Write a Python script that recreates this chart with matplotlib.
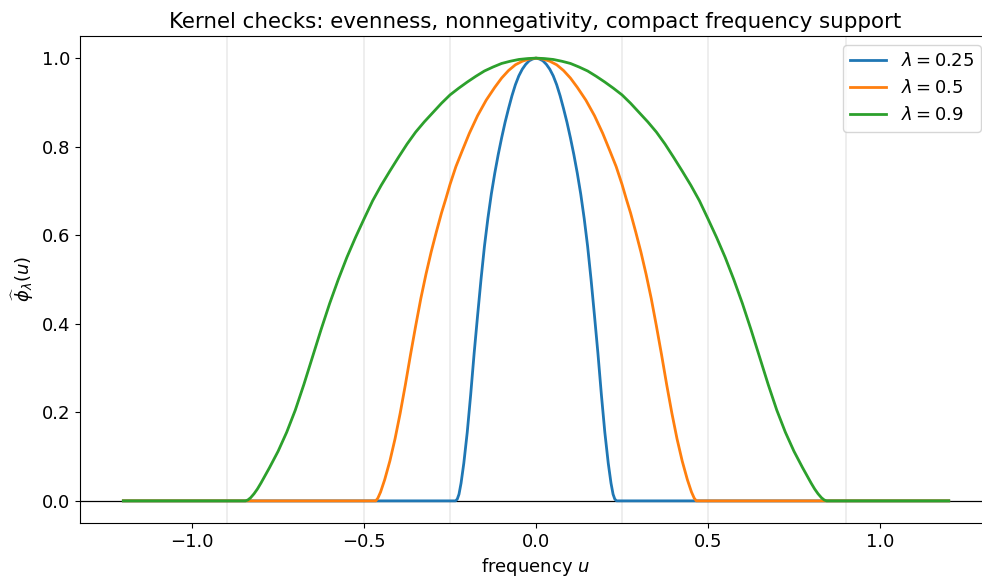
import numpy as np
import matplotlib
matplotlib.use("Agg")
import matplotlib.pyplot as plt

# half-curves (u >= 0); kernels are even, so mirrored below
lambdas = [0.25, 0.5, 0.9]
colors = ["#1f77b4", "#ff7f0e", "#2ca02c"]

u_blue = [0.0, 0.01, 0.02, 0.03, 0.04, 0.05, 0.06, 0.07, 0.08, 0.09, 0.10,
          0.11, 0.12, 0.13, 0.14, 0.15, 0.16, 0.17, 0.18, 0.19, 0.20,
          0.21, 0.218, 0.224, 0.229, 0.234]
v_blue = [1.0, 0.998, 0.994, 0.986, 0.975, 0.960, 0.940, 0.915, 0.886, 0.855, 0.820,
          0.782, 0.740, 0.693, 0.638, 0.575, 0.500, 0.418, 0.333, 0.240, 0.155,
          0.085, 0.040, 0.015, 0.004, 0.0]

u_orange = [0.0, 0.02, 0.04, 0.06, 0.08, 0.10, 0.12, 0.145, 0.17, 0.194, 0.215,
            0.233, 0.25, 0.262, 0.275, 0.29, 0.305, 0.32, 0.335, 0.35, 0.365,
            0.38, 0.395, 0.41, 0.425, 0.44, 0.452, 0.46, 0.466]
v_orange = [1.0, 0.998, 0.993, 0.985, 0.972, 0.955, 0.934, 0.905, 0.870, 0.830, 0.790,
            0.755, 0.715, 0.683, 0.650, 0.607, 0.562, 0.512, 0.457, 0.395, 0.330,
            0.262, 0.198, 0.140, 0.090, 0.048, 0.020, 0.006, 0.0]

u_green = [0.0, 0.025, 0.05, 0.075, 0.10, 0.125, 0.15, 0.175, 0.20, 0.225, 0.25,
           0.275, 0.30, 0.325, 0.35, 0.375, 0.40, 0.425, 0.45, 0.475, 0.50,
           0.525, 0.55, 0.575, 0.60, 0.625, 0.65, 0.675, 0.70, 0.725, 0.75,
           0.775, 0.79, 0.80, 0.81, 0.82, 0.83, 0.838, 0.845]
v_green = [1.0, 0.999, 0.997, 0.993, 0.988, 0.980, 0.971, 0.959, 0.946, 0.932, 0.917,
           0.898, 0.877, 0.856, 0.833, 0.806, 0.776, 0.745, 0.713, 0.678, 0.637,
           0.595, 0.550, 0.500, 0.446, 0.387, 0.325, 0.263, 0.205, 0.155, 0.112,
           0.075, 0.054, 0.040, 0.027, 0.016, 0.007, 0.002, 0.0]

u_max = 1.2

halves = [(u_blue, v_blue), (u_orange, v_orange), (u_green, v_green)]


def full_curve(u_half, v_half):
    u_half = np.array(u_half)
    v_half = np.array(v_half)
    u = np.concatenate([[-u_max], -u_half[::-1], u_half[1:], [u_max]])
    v = np.concatenate([[0.0], v_half[::-1], v_half[1:], [0.0]])
    return u, v


plt.rcParams["font.size"] = 13

fig = plt.figure(figsize=(9.82, 5.8), dpi=100)
# right spine sits just past the picture edge, as in the reference
ax = fig.add_axes([80 / 982, 57 / 580, 910 / 982, 487 / 580])

for lam in lambdas:
    ax.axvline(lam, color="0.92", lw=1.2, zorder=0)
    ax.axvline(-lam, color="0.92", lw=1.2, zorder=0)
ax.axhline(0, color="black", lw=0.9, zorder=1)

for lam, (uh, vh), c in zip(lambdas, halves, colors):
    u, v = full_curve(uh, vh)
    ax.plot(u, v, color=c, lw=2, label=rf"$\lambda = {lam}$", zorder=2)

ax.set_xlim(-1.326, 1.32)
ax.set_ylim(-0.05, 1.05)
ax.set_title("Kernel checks: evenness, nonnegativity, compact frequency support", fontsize=15.4)
ax.set_xlabel("frequency $u$")
ax.set_ylabel(r"$\widehat{\phi}_\lambda(u)$")
ax.legend(loc="upper right", fontsize=13)

fig.savefig("out.png", dpi=100)
